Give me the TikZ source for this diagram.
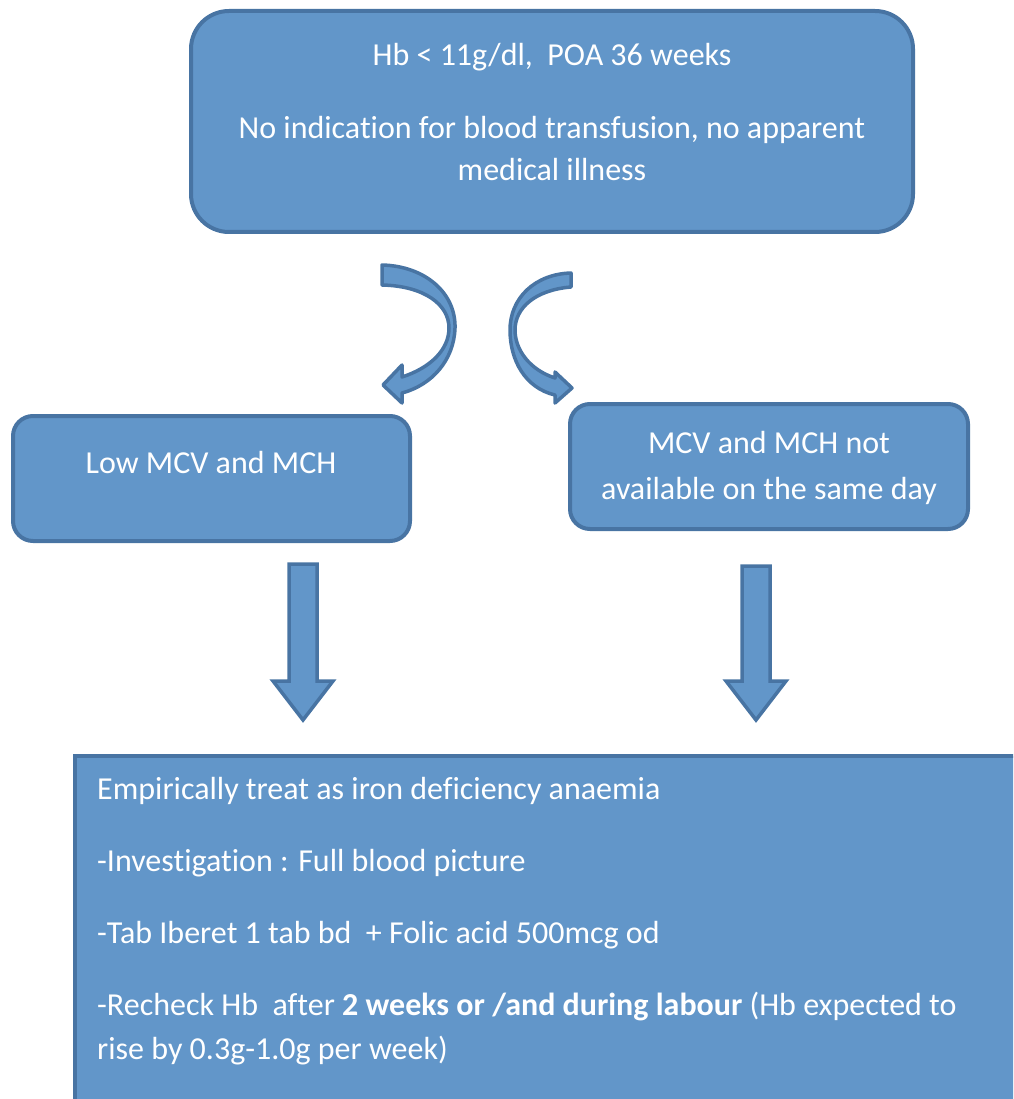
\documentclass[tikz,border=0pt]{standalone}
\usepackage{fontspec}
\setmainfont{Carlito}[Ligatures=NoCommon]
\definecolor{boxfill}{RGB}{98,150,201}
\definecolor{boxline}{RGB}{72,116,163}
\begin{document}
\begin{tikzpicture}[x=1pt,y=-1pt,
  shapebox/.style={draw=boxline,fill=boxfill,line width=4pt,line join=round},
  txt/.style={text=white,font=\fontsize{32}{38}\selectfont,inner sep=0pt}]
\useasboundingbox (0,0) rectangle (1013,1099);
\clip (0,0) rectangle (1013,1099);
% top box
\draw[shapebox,rounded corners=38pt] (191,11) rectangle (913,232);
\node[txt,anchor=base] (t1) at (552,66) {Hb < 11g/dl,\ \ POA 36 weeks};
\node[txt,anchor=base] (t2) at (552,139) {No indication for blood transfusion, no apparent};
\node[txt,anchor=base] (t3) at (552,181) {medical illness};
% left box
\draw[shapebox,rounded corners=20pt] (13,416) rectangle (410,541);
\node[txt,anchor=base] (l1) at (211,473) {Low MCV and MCH};
% right box
\draw[shapebox,rounded corners=20pt] (570,404) rectangle (968,529);
\node[txt,anchor=base] (r1) at (769,453) {MCV and MCH not};
\node[txt,anchor=base] (r2) at (769,499) {available on the same day};
% curved arrows
\draw[shapebox,line width=3.5pt]
 (382,265) .. controls (425,266) and (456,293) .. (455,328)
 .. controls (454,360) and (432,385) .. (402,393)
 -- (402,403) -- (383,385) -- (402,365) -- (402,377)
 .. controls (430,368) and (449,350) .. (449,328)
 .. controls (449,305) and (425,286) .. (382,285) -- cycle;
\draw[shapebox,line width=3.5pt]
 (571,273) -- (571,287)
 .. controls (535,290) and (515,308) .. (515,330)
 .. controls (515,350) and (530,370) .. (555,378)
 -- (555,372) -- (572,388) -- (555,403) -- (555,395)
 .. controls (525,388) and (510,360) .. (510,330)
 .. controls (510,298) and (535,274) .. (571,273) -- cycle;
% down arrows
\draw[shapebox,line width=3.5pt,line join=miter] (289,564) -- (317,564) -- (317,681) -- (333,681) -- (303,720) -- (273,681) -- (289,681) -- cycle;
\draw[shapebox,line width=3.5pt,line join=miter] (742,566) -- (770,566) -- (770,681) -- (786,681) -- (756,720) -- (726,681) -- (742,681) -- cycle;
% bottom box
\draw[shapebox,line join=miter] (75,756) rectangle (1030,1120);
\node[txt,anchor=base west] (b1) at (97,799) {Empirically treat as iron deficiency anaemia};
\node[txt,anchor=base west] (b2) at (97,871) {-Investigation : Full blood picture};
\node[txt,anchor=base west] (b3) at (97,943) {-Tab Iberet 1 tab bd\ \ + Folic acid 500mcg od};
\node[txt,anchor=base west] (b4) at (97,1015) {-Recheck Hb\ \ after \textbf{2 weeks or /and during labour} (Hb expected to};
\node[txt,anchor=base west] (b5) at (97,1059) {rise by 0.3g-1.0g per week)};
\end{tikzpicture}
\end{document}
